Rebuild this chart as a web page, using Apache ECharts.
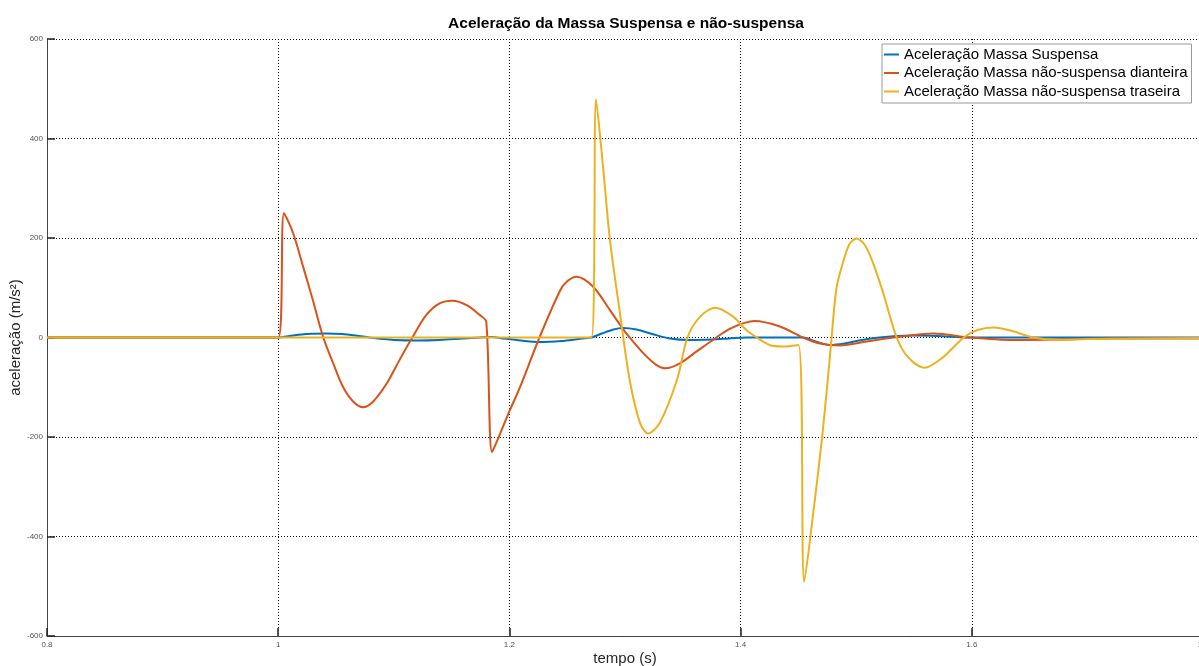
<!DOCTYPE html>
<html>
<head>
<meta charset="utf-8">
<title>Aceleração da Massa Suspensa e não-suspensa</title>
<script src="https://cdn.jsdelivr.net/npm/echarts@6/dist/echarts.min.js"></script>
<style>
  html, body { margin: 0; padding: 0; background: #fff; }
  #chart { width: 1199px; height: 666px; }
</style>
</head>
<body>
<div id="chart"></div>
<script>
// Series names
const seriesNames = [
  'Aceleração Massa Suspensa',
  'Aceleração Massa não-suspensa dianteira',
  'Aceleração Massa não-suspensa traseira'
];

// Sprung mass acceleration (time in s, acceleration in m/s²)
const tSusp = [0.8, 1.0, 1.01, 1.02, 1.03, 1.042, 1.055, 1.067, 1.079, 1.09, 1.1, 1.12, 1.14, 1.16, 1.175, 1.185, 1.195, 1.21, 1.226, 1.245, 1.26, 1.271, 1.28, 1.29, 1.298, 1.31, 1.325, 1.339, 1.355, 1.375, 1.39, 1.405, 1.454, 1.465, 1.477, 1.49, 1.505, 1.52, 1.535, 1.549, 1.57, 1.6, 1.65, 1.8];
const aSusp = [0, 0, 3, 6, 7.5, 8, 7, 4, 0, -3, -5, -6, -5, -2, 0, 1, -2, -6, -9, -7, -3, 0, 8, 16, 19, 16, 6, -2, -5, -4, -2, 0, 0, -8, -15, -12, -5, 0, 3, 4, 3, 0, 0, 0];

// Front unsprung mass acceleration
const tDiant = [0.8, 1.0, 1.005, 1.013, 1.0216, 1.030, 1.039, 1.0476, 1.056, 1.065, 1.0735, 1.082, 1.094, 1.105, 1.116, 1.128, 1.140, 1.151, 1.163, 1.1745, 1.180, 1.185, 1.192, 1.2004, 1.209, 1.226, 1.244, 1.25, 1.258, 1.2725, 1.287, 1.298, 1.304, 1.316, 1.327, 1.335, 1.3475, 1.362, 1.376, 1.391, 1.412, 1.434, 1.454, 1.4686, 1.486, 1.509, 1.532, 1.567, 1.598, 1.636, 1.676, 1.72, 1.8];
const aDiant = [0, 0, 250, 209, 142, 75, 0, -52, -99, -129, -140, -129, -92, -45, 0, 45, 69, 74, 65, 45, 32, -230, -193, -146, -101, 0, 95, 113, 122, 102, 55, 18, 0, -32, -55, -62, -52, -28, -5, 18, 33, 22, 0, -12, -16, -8, 0, 8, 0, -5, -4, -2, -2];

// Rear unsprung mass acceleration
const tTras = [0.8, 1.271, 1.275, 1.281, 1.287, 1.2956, 1.304, 1.313, 1.32, 1.33, 1.345, 1.354, 1.365, 1.378, 1.3936, 1.405, 1.414, 1.425, 1.437, 1.45, 1.455, 1.463, 1.471, 1.478, 1.483, 1.49, 1.4945, 1.5003, 1.5075, 1.5147, 1.5234, 1.535, 1.545, 1.559, 1.575, 1.593, 1.605, 1.619, 1.635, 1.653, 1.676, 1.7, 1.8];
const aTras = [0, 0, 479, 343, 196, 49, -85, -172, -193, -172, -85, 0, 42, 60, 42, 15, 0, -15, -18, -15, -491, -350, -190, -20, 100, 162, 189, 199, 186, 149, 89, 0, -40, -61, -40, 0, 15, 20, 13, 0, -5, -3, -1];

// Axis ranges and tick steps
const xRange = [0.8, 1.8];
const xStep = 0.2;
const yRange = [-600, 600];
const yStep = 200;

const colors = ['#0072BD', '#D95319', '#EDB120'];

function pairs(t, a) {
  return t.map((v, i) => [v, a[i]]);
}

const chart = echarts.init(document.getElementById('chart'), null, { renderer: 'canvas' });

const font = 'Liberation Sans, Arial, sans-serif';
const gridLine = { show: true, lineStyle: { color: '#111', width: 1, type: [1, 2] } };
const tickLabel = { color: '#555', fontSize: 8, fontFamily: font };

chart.setOption({
  animation: false,
  backgroundColor: '#fff',
  color: colors,
  title: {
    text: 'Aceleração da Massa Suspensa e não-suspensa',
    left: 621,
    top: 11,
    textAlign: 'center',
    textStyle: { fontSize: 15.5, fontWeight: 'bold', color: '#000', fontFamily: font }
  },
  legend: {
    data: seriesNames,
    orient: 'vertical',
    left: 882,
    top: 44,
    padding: [3, 4, 4, 2],
    itemGap: 3.5,
    itemWidth: 15,
    itemHeight: 2,
    icon: 'rect',
    backgroundColor: '#fff',
    borderColor: '#999',
    borderWidth: 1,
    borderRadius: 0,
    textStyle: { fontSize: 15, color: '#000', fontFamily: font }
  },
  grid: { left: 47, right: -4, top: 39, bottom: 30, containLabel: false, outerBoundsMode: 'none' },
  xAxis: {
    type: 'value',
    min: xRange[0],
    max: xRange[1],
    interval: xStep,
    name: 'tempo (s)',
    nameLocation: 'middle',
    nameGap: 15,
    nameMoveOverlap: false,
    nameTextStyle: { fontSize: 15, color: '#262626', fontFamily: font },
    axisLine: { show: true, onZero: false, lineStyle: { color: '#444', width: 1 } },
    axisTick: { show: true, inside: true, length: 8, lineStyle: { color: '#222', width: 1.5 } },
    axisLabel: Object.assign({ margin: 5, showMaxLabel: true }, tickLabel),
    splitLine: gridLine
  },
  yAxis: {
    type: 'value',
    min: yRange[0],
    max: yRange[1],
    interval: yStep,
    name: 'aceleração (m/s²)',
    nameLocation: 'middle',
    nameGap: 24,
    nameMoveOverlap: false,
    nameTextStyle: { fontSize: 15, color: '#262626', fontFamily: font },
    axisLine: { show: true, onZero: false, lineStyle: { color: '#444', width: 1 } },
    axisTick: { show: true, inside: true, length: 8, lineStyle: { color: '#222', width: 1.5 } },
    axisLabel: Object.assign({ margin: 4 }, tickLabel),
    splitLine: gridLine
  },
  series: [
    { name: seriesNames[0], type: 'line', data: pairs(tSusp, aSusp), showSymbol: false, smooth: 0.3, lineStyle: { width: 2 }, z: 2 },
    { name: seriesNames[1], type: 'line', data: pairs(tDiant, aDiant), showSymbol: false, smooth: 0.3, lineStyle: { width: 2 }, z: 3 },
    { name: seriesNames[2], type: 'line', data: pairs(tTras, aTras), showSymbol: false, smooth: 0.3, lineStyle: { width: 2 }, z: 4 }
  ]
});
</script>
</body>
</html>
